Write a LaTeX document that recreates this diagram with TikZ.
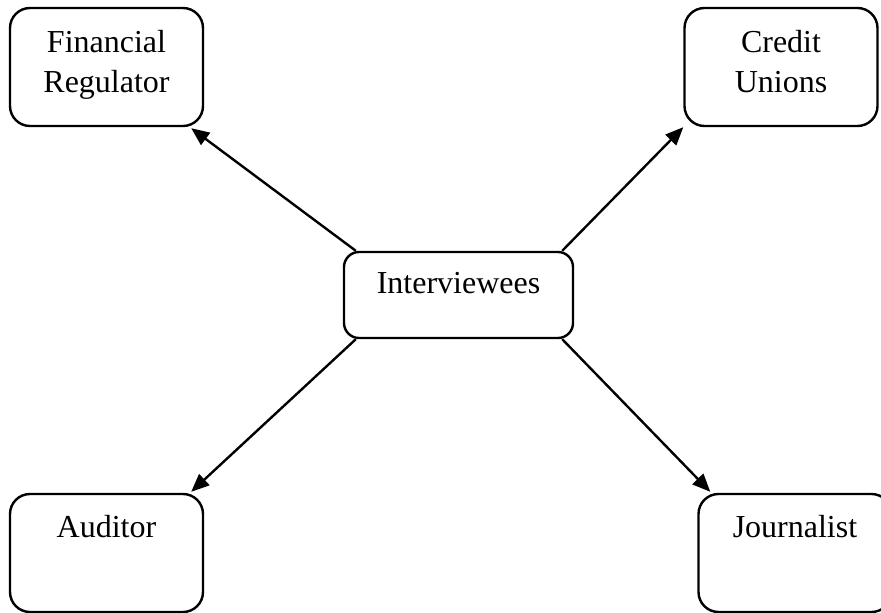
\documentclass[tikz,border=0pt]{standalone}
\usepackage{fontspec}
\setmainfont{Liberation Serif}
\usetikzlibrary{arrows.meta}
\begin{document}
\begin{tikzpicture}[x=1pt,y=-1pt,
  box/.style={draw=black, line width=2.4pt, rounded corners=20pt, minimum width=193pt, minimum height=118pt, inner sep=0pt},
  midbox/.style={draw=black, line width=2.4pt, rounded corners=15pt, minimum width=229pt, minimum height=86pt, inner sep=0pt},
  txt/.style={anchor=north, inner sep=0pt, align=center, font=\fontsize{32}{40}\selectfont},
  arr/.style={line width=2.4pt, -{Triangle[length=18pt,width=15pt]}}]
\useasboundingbox[fill=white] (0,0) rectangle (881,613);
\node[box] (fr) at (106.5,67) {};
\node[box] (cu) at (781,67) {};
\node[midbox] (iv) at (458.5,295) {};
\node[box] (au) at (106.5,553) {};
\node[box] (jo) at (795,553) {};
\node[txt] (frt) at ([yshift=-23pt]fr.north) {Financial\\Regulator};
\node[txt] (cut) at ([yshift=-23pt]cu.north) {Credit\\Unions};
\node[txt] (ivt) at ([yshift=-21pt]iv.north) {Interviewees};
\node[txt] (aut) at ([yshift=-22pt]au.north) {Auditor};
\node[txt] (jot) at ([yshift=-22pt]jo.north) {Journalist};
\draw[arr] ([xshift=13pt]iv.north west) -- ([xshift=-13pt,yshift=-1pt]fr.south east);
\draw[arr] ([xshift=-12pt]iv.north east) -- (cu.south west);
\draw[arr] ([xshift=13pt]iv.south west) -- ([xshift=-13pt,yshift=1pt]au.north east);
\draw[arr] ([xshift=-12pt]iv.south east) -- ([xshift=13pt,yshift=1pt]jo.north west);
\end{tikzpicture}
\end{document}
